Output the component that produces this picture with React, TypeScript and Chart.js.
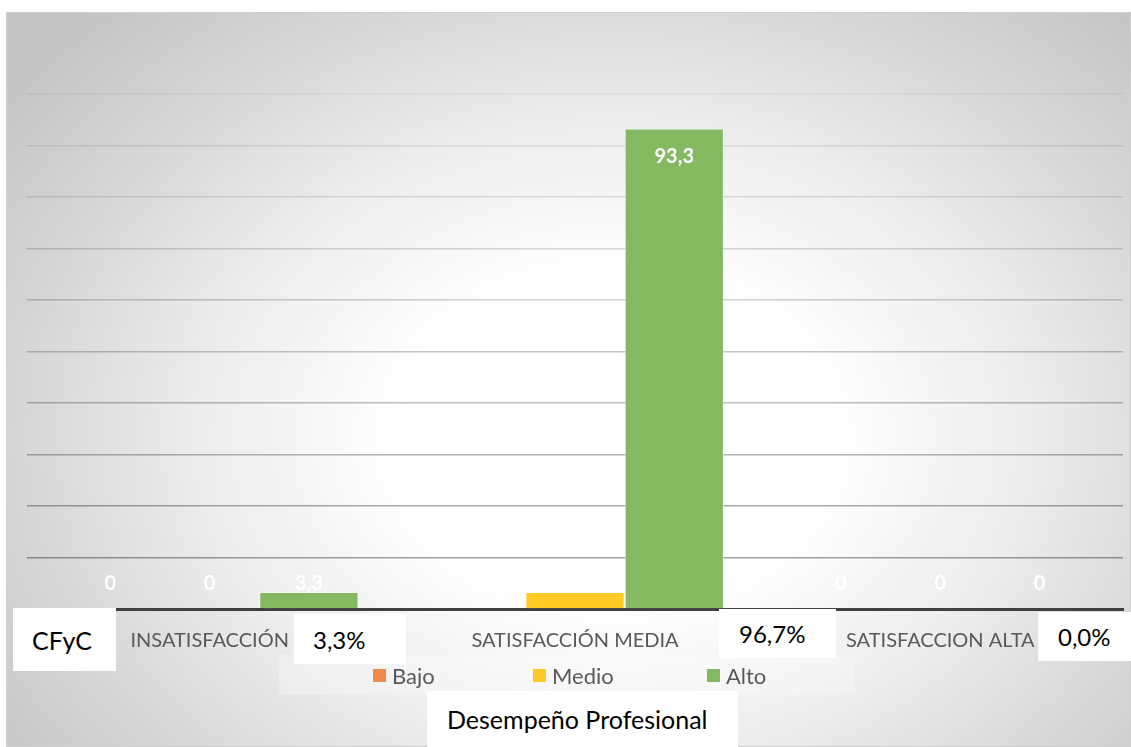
import React, { useEffect, useRef } from "react";
import { Chart, registerables } from "chart.js";

Chart.register(...registerables);

const categories = ["INSATISFACCIÓN", "SATISFACCIÓN MEDIA", "SATISFACCION ALTA"];
const seriesNames = ["Bajo", "Medio", "Alto"];
const bajoValues = [0, 0, 0];
const medioValues = [0, 3.3, 0];
const altoValues = [3.3, 93.3, 0];
const seriesColors = ["#F0884A", "#FFC926", "#84B962"];
const percentLabels = ["3,3%", "96,7%", "0,0%"];
const yMax = 100;
const yStep = 10;

const FONT = "Lato, 'Noto Sans', sans-serif";

const labelPlugin = {
  id: "valueLabels",
  afterDatasetsDraw(chart: any) {
    const ctx = chart.ctx;
    ctx.save();
    ctx.font = `bold 20px ${FONT}`;
    ctx.fillStyle = "#ffffff";
    ctx.textAlign = "center";
    ctx.textBaseline = "middle";
    chart.data.datasets.forEach((ds: any, i: number) => {
      const meta = chart.getDatasetMeta(i);
      meta.data.forEach((el: any, j: number) => {
        const v = ds.data[j];
        const txt = String(v).replace(".", ",");
        const y = Math.min(el.y + 28, el.base - 25);
        ctx.fillText(txt, el.x, y);
      });
    });
    ctx.restore();
  },
};

export default function App() {
  const ref = useRef<HTMLCanvasElement>(null);
  useEffect(() => {
    const valuesList = [bajoValues, medioValues, altoValues];
    const chart = new Chart(ref.current!, {
      type: "bar",
      data: {
        labels: categories,
        datasets: seriesNames.map((n, i) => ({
          label: n,
          data: valuesList[i],
          backgroundColor: seriesColors[i],
          borderColor: "rgba(255,255,255,0.5)",
          borderWidth: 1,
          categoryPercentage: 0.815,
          barPercentage: 1.0,
        })),
      },
      options: {
        animation: false,
        responsive: false,
        maintainAspectRatio: false,
        layout: { padding: { left: 27, right: 8, top: 94, bottom: 0 } },
        plugins: { legend: { display: false }, tooltip: { enabled: false } },
        scales: {
          x: {
            grid: { display: false, drawTicks: false },
            border: { display: true, color: "#404040", width: 3 },
            ticks: {
              color: "#595959",
              font: { family: FONT, size: 20 },
              padding: 20,
              maxRotation: 0,
              autoSkip: false,
            },
            afterFit: (s: any) => {
              s.height = 138;
            },
          },
          y: {
            min: 0,
            max: yMax,
            ticks: { display: false, stepSize: yStep },
            grid: {
              color: (c: any) => {
                const v = c.tick ? c.tick.value : 0;
                const a = Math.max(0.05, 0.4 - 0.0035 * v);
                return `rgba(0,0,0,${a.toFixed(3)})`;
              },
              lineWidth: 1.5,
              drawTicks: false,
            },
            border: { display: false },
            afterFit: (s: any) => {
              s.width = 0;
            },
          },
        },
      },
      plugins: [labelPlugin],
    });
    return () => chart.destroy();
  }, []);

  const box = (left: number, top: number, w: number, h: number, text: string, size: number, pl: number) => (
    <div
      style={{
        position: "absolute",
        left,
        top,
        width: w,
        height: h,
        background: "#ffffff",
        fontFamily: FONT,
        fontSize: size,
        color: "#000",
        display: "flex",
        alignItems: "center",
        paddingLeft: pl,
        boxSizing: "border-box",
        whiteSpace: "nowrap",
      }}
    >
      {text}
    </div>
  );

  const legendItem = (left: number, color: string, text: string) => (
    <div style={{ position: "absolute", left, top: 661, height: 28, display: "flex", alignItems: "center" }}>
      <div style={{ width: 13, height: 13, background: color, marginRight: 6 }} />
      <span style={{ fontFamily: FONT, fontSize: 22, color: "#595959" }}>{text}</span>
    </div>
  );

  return (
    <div style={{ position: "absolute", left: 0, top: 0, width: 1131, height: 747, background: "#ffffff", overflow: "hidden" }}>
      <div
        style={{
          position: "absolute",
          left: 6,
          top: 12,
          width: 1125,
          height: 735,
          boxSizing: "border-box",
          border: "1px solid #cfcfcf",
          background:
            "radial-gradient(ellipse 68% 80% at 54% 58%, #ffffff 0%, #ffffff 28%, #ececec 55%, #d6d6d6 78%, #c4c4c4 100%)",
        }}
      />
      <div style={{ position: "absolute", left: 279, top: 655, width: 576, height: 40, background: "rgba(255,255,255,0.25)" }} />
      <canvas ref={ref} width={1131} height={747} style={{ position: "absolute", left: 0, top: 0 }} />
      {legendItem(373, seriesColors[0], seriesNames[0])}
      {legendItem(533, seriesColors[1], seriesNames[1])}
      {legendItem(707, seriesColors[2], seriesNames[2])}
      {box(13, 608, 103, 63, "CFyC", 25, 19)}
      {box(294, 614, 112, 50, percentLabels[0], 24, 19)}
      {box(719, 609, 117, 49, percentLabels[1], 24, 20)}
      {box(1038, 612, 93, 49, percentLabels[2], 24, 20)}
      {box(427, 691, 311, 56, "Desempeño Profesional", 25, 20)}
    </div>
  );
}
